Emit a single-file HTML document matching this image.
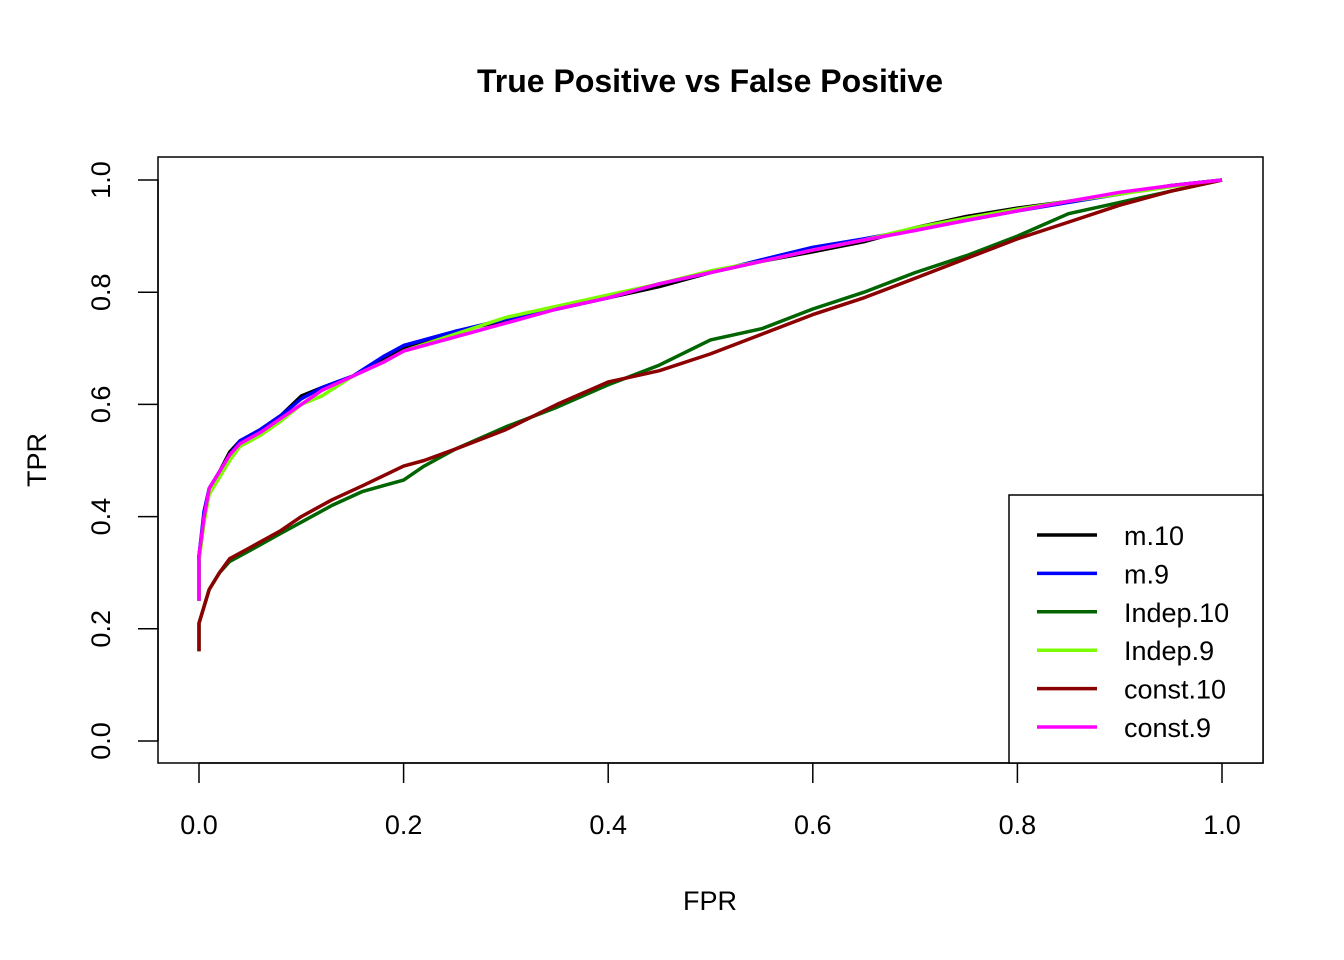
<!DOCTYPE html>
<html><head><meta charset="utf-8"><style>body{margin:0;background:#fff}svg{display:block;font-family:"Liberation Sans",Arial,sans-serif}</style></head>
<body>
<svg id="chart" width="1344" height="960">
<text x="710" y="92" text-anchor="middle" font-size="32" font-weight="bold">True Positive vs False Positive</text>
<rect x="158" y="157" width="1105" height="606" fill="none" stroke="#000" stroke-width="1.5"/>
<g id="xaxis"></g>
<g id="yaxis"></g>
<text x="710" y="910" text-anchor="middle" font-size="27">FPR</text>
<text transform="translate(46,460) rotate(-90)" text-anchor="middle" font-size="27">TPR</text>
<g id="series"></g>
<g id="legend">
<rect x="1009" y="495" width="254" height="268" fill="#fff" stroke="#000" stroke-width="1.5"/>
</g>
</svg>
<script>
const xTicks=[0,0.2,0.4,0.6,0.8,1.0];
const yTicks=[0,0.2,0.4,0.6,0.8,1.0];
const seriesNames=["m.10","m.9","Indep.10","Indep.9","const.10","const.9"];
const seriesColors=["#000000","#0000ff","#006400","#7cfc00","#8b0000","#ff00ff"];
const fprUpper=[0,0,0.005,0.01,0.02,0.03,0.04,0.06,0.08,0.1,0.12,0.15,0.18,0.2,0.25,0.3,0.35,0.4,0.45,0.5,0.55,0.6,0.65,0.7,0.75,0.8,0.85,0.9,0.95,1];
const tprM10=[0.25,0.33,0.40,0.45,0.48,0.515,0.535,0.555,0.58,0.615,0.63,0.65,0.68,0.70,0.73,0.75,0.77,0.79,0.81,0.835,0.855,0.872,0.89,0.915,0.935,0.95,0.962,0.975,0.99,1];
const tprM9=[0.25,0.33,0.41,0.45,0.48,0.51,0.535,0.555,0.58,0.61,0.63,0.65,0.685,0.705,0.73,0.752,0.77,0.79,0.815,0.835,0.858,0.88,0.895,0.912,0.928,0.945,0.96,0.975,0.99,1];
const tprIndep9=[0.25,0.32,0.39,0.44,0.47,0.50,0.525,0.545,0.57,0.60,0.615,0.65,0.675,0.695,0.725,0.755,0.775,0.795,0.815,0.838,0.855,0.875,0.893,0.915,0.932,0.948,0.962,0.975,0.988,1];
const tprConst9=[0.25,0.33,0.40,0.45,0.48,0.51,0.53,0.55,0.575,0.60,0.625,0.65,0.675,0.695,0.72,0.745,0.77,0.79,0.815,0.835,0.855,0.875,0.893,0.91,0.928,0.945,0.962,0.978,0.99,1];
const fprLower=[0,0,0.005,0.01,0.02,0.03,0.05,0.08,0.1,0.13,0.16,0.2,0.22,0.25,0.3,0.35,0.4,0.45,0.5,0.55,0.6,0.65,0.7,0.75,0.8,0.85,0.9,0.95,1];
const tprIndep10=[0.16,0.21,0.24,0.27,0.30,0.32,0.34,0.37,0.39,0.42,0.445,0.465,0.49,0.52,0.56,0.595,0.635,0.67,0.715,0.735,0.77,0.8,0.835,0.865,0.9,0.94,0.96,0.98,1];
const tprConst10=[0.16,0.21,0.24,0.27,0.30,0.325,0.345,0.375,0.40,0.43,0.455,0.49,0.50,0.52,0.555,0.60,0.64,0.66,0.69,0.725,0.76,0.79,0.825,0.86,0.895,0.925,0.955,0.98,1];
const seriesX=[fprUpper,fprUpper,fprLower,fprUpper,fprLower,fprUpper];
const seriesY=[tprM10,tprM9,tprIndep10,tprIndep9,tprConst10,tprConst9];
const NS="http://www.w3.org/2000/svg";
const sx=v=>199+v*1023, sy=v=>741-v*561;
function mk(t,a,p){const e=document.createElementNS(NS,t);for(const k in a)e.setAttribute(k,a[k]);p.appendChild(e);return e;}
const xa=document.getElementById('xaxis'), ya=document.getElementById('yaxis');
mk('line',{x1:sx(0),x2:sx(1),y1:763,y2:763,stroke:'#000','stroke-width':1.5},xa);
xTicks.forEach(v=>{
 const l=mk('line',{x1:sx(v),x2:sx(v),y1:763,y2:783,stroke:'#000','stroke-width':1.5},xa);
 
 
 const t=mk('text',{x:sx(v),y:834,'text-anchor':'middle','font-size':27},xa);
 t.textContent=v.toFixed(1);
 
 
});
mk('line',{x1:158,x2:158,y1:sy(0),y2:sy(1),stroke:'#000','stroke-width':1.5},ya);
yTicks.forEach(v=>{
 const l=mk('line',{x1:138,x2:158,y1:sy(v),y2:sy(v),stroke:'#000','stroke-width':1.5},ya);
 
 
 const t=mk('text',{transform:`translate(110,${sy(v)}) rotate(-90)`,'text-anchor':'middle','font-size':27},ya);
 t.textContent=v.toFixed(1);
 
 
});
const sg=document.getElementById('series');
seriesNames.forEach((n,i)=>{
 const pts=seriesX[i].map((x,j)=>sx(x).toFixed(1)+','+sy(seriesY[i][j]).toFixed(1)).join(' ');
 const p=mk('polyline',{points:pts,fill:'none',stroke:seriesColors[i],'stroke-width':3.5,'stroke-linejoin':'round'},sg);
 
 
});
const lg=document.getElementById('legend');
seriesNames.forEach((n,i)=>{
 const y=535+i*38.4;
 const g=mk('g',{},lg);
 
 
 mk('line',{x1:1037,x2:1097,y1:y,y2:y,stroke:seriesColors[i],'stroke-width':3.5},g);
 const t=mk('text',{x:1124,y:y+10,'font-size':27},g);
 t.textContent=n;
});
</script>
</body></html>
